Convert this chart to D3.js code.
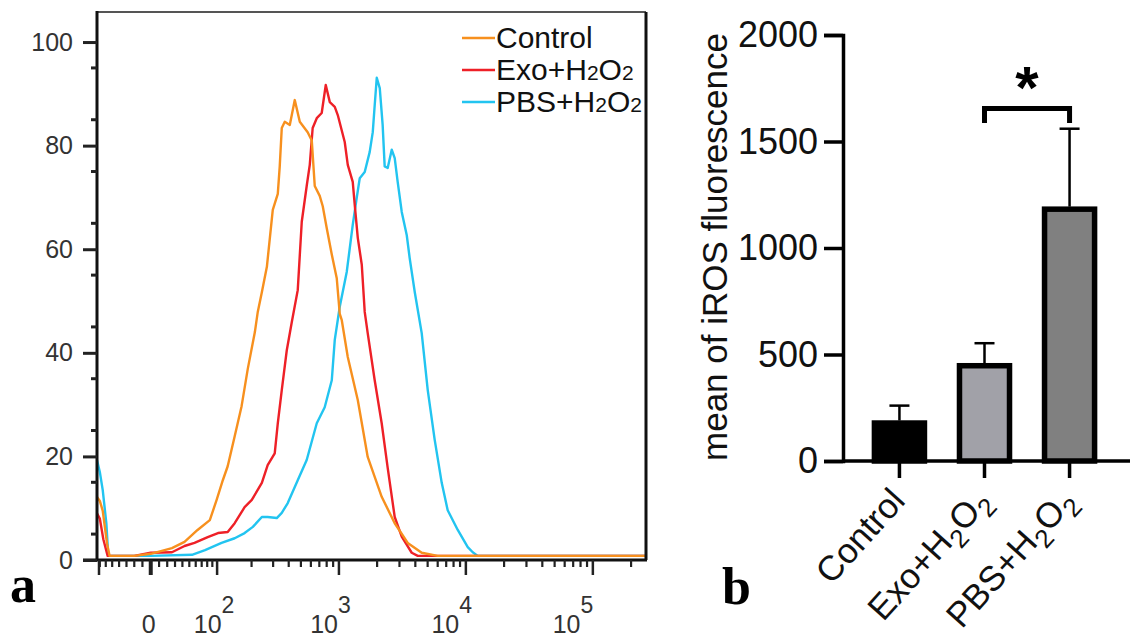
<!DOCTYPE html>
<html>
<head>
<meta charset="utf-8">
<script src="https://cdn.jsdelivr.net/npm/d3@7"></script>
<style>
  body { margin: 0; background: #fff; }
  text { font-family: "Liberation Sans", Arial, sans-serif; }
</style>
</head>
<body>
<div id="chart"></div>
<script>
// ---- panel a: flow histogram, [fluorescence, % of max] ----
const controlHist = [[-75,12.2],[-70,11.4],[-65,9.5],[-58,3.2],[-54,0.8],[-20,0.8],[0,1.2],[26,2.3],[43,3.5],[63,5.8],[85,7.7],[99,11.6],[113,15.4],[125,18.1],[144,23.9],[165,29.7],[186,36.9],[213,44.0],[225,47.9],[243,51.7],[267,56.6],[298,67.6],[327,70.7],[339,76],[352,83.4],[372,84.6],[408,84],[447,88.8],[490,84.6],[566,82.6],[610,81],[644,72.2],[705,70.3],[745,68.3],[802,64],[878,59],[961,54.4],[1015,47.5],[1053,46.3],[1174,39.2],[1408,30.9],[1686,19.9],[2173,12.2],[2752,7.1],[3484,3.3],[4490,1.4],[6000,0.8],[262144,0.8]];
const exoHist = [[-75,9],[-70,8],[-64,4],[-57,0.8],[-20,0.8],[0,1.4],[26,1.5],[43,2.7],[58,3.3],[81,4.4],[102,5.2],[125,5.4],[144,7.1],[175,10.2],[201,11.6],[243,14.9],[271,18.3],[309,20.6],[327,26.4],[352,32.8],[386,40.5],[423,45.9],[472,52.1],[508,65.3],[556,72.2],[588,76.3],[620,83.4],[668,85.3],[731,86.3],[787,91.7],[847,88.4],[927,87.5],[979,85.9],[1111,80.7],[1174,76.3],[1285,73],[1333,68.5],[1408,62.2],[1514,57],[1597,47.9],[1686,43.8],[1914,34.7],[2173,26.4],[2423,17.8],[2752,8.3],[3126,4.5],[3746,1.4],[4180,0.8],[262144,0.8]];
const pbsHist = [[-75,19.3],[-70,17],[-65,13.5],[-59,7],[-56,0.8],[-20,0.8],[0,0.8],[54,1.0],[76,1.9],[110,3.3],[144,4.2],[175,5.2],[205,6.4],[243,8.3],[271,8.3],[321,8.1],[352,9.1],[393,11],[472,15.4],[556,19.3],[668,26.4],[772,29.5],[878,34.7],[927,42.5],[1015,48.9],[1152,55.6],[1285,64.7],[1381,69.9],[1459,73.7],[1597,74.9],[1749,78.8],[1848,82.6],[1914,87.8],[1987,93.1],[2098,91.1],[2211,84],[2294,76],[2423,75.7],[2607,79.2],[2752,77.6],[2904,73],[3126,67.2],[3424,62.7],[3610,58.3],[3960,51.7],[4490,43.8],[5009,32.8],[5683,23.2],[6455,14.9],[7194,9.6],[8633,5.8],[10349,2.5],[11326,1.5],[12400,0.8],[262144,0.8]];
const histNames = ["Control", "Exo+H2O2", "PBS+H2O2"];
const histTickMajor = [0, 100, 1000, 10000, 100000];
const histTickExp = ["", "2", "3", "4", "5"];
const histYTicks = [0, 20, 40, 60, 80, 100];

// ---- panel b: bar chart ----
const groups = ["Control", "Exo+H2O2", "PBS+H2O2"];
const means = [190, 459, 1194];
const errs = [70, 94, 366];
const barTicks = [0, 500, 1000, 1500, 2000];
const sigPair = ["Exo+H2O2", "PBS+H2O2"];
const sigLevel = [1587, 1655];

const width = 1138, height = 637;
const svg = d3.select("#chart").append("svg").attr("width", width).attr("height", height);

const lineColors = ["#f7901e", "#ee2027", "#22c4f0"];
const barFills = ["#000000", "#a1a1a8", "#808080"];
const serif = "'Liberation Serif', 'Times New Roman', serif";

// ===== panel a =====
const aLeft = 97, aRight = 646, aTop = 12, aBottom = 560;
const w0 = 66;
const tr = v => Math.asinh(v / w0) / Math.LN10;
const xl = d3.scaleLinear().domain([tr(-75), tr(262144)]).range([aLeft, aRight]);
const x = v => xl(tr(v));
const y = d3.scaleLinear().domain([0, 105.8]).range([aBottom, aTop]);

const ga = svg.append("g");

// curves, back to front
const line = d3.line().x(d => x(d[0])).y(d => y(d[1]));
const series = [pbsHist, exoHist, controlHist];
const seriesColor = [lineColors[2], lineColors[1], lineColors[0]];
ga.append("g").selectAll("path").data(series).join("path")
  .attr("d", line).attr("fill", "none")
  .attr("stroke", (d, i) => seriesColor[i]).attr("stroke-width", 2.4)
  .attr("stroke-linejoin", "round");

// frame
ga.append("line").attr("x1", aLeft).attr("x2", aRight).attr("y1", aTop).attr("y2", aTop)
  .attr("stroke", "#555").attr("stroke-width", 2);
ga.append("line").attr("x1", aRight).attr("x2", aRight).attr("y1", aTop).attr("y2", aBottom)
  .attr("stroke", "#111").attr("stroke-width", 3);
ga.append("line").attr("x1", aLeft).attr("x2", aLeft).attr("y1", aTop - 1).attr("y2", aBottom + 1)
  .attr("stroke", "#111").attr("stroke-width", 3);
ga.append("line").attr("x1", aLeft - 14).attr("x2", aRight + 1).attr("y1", aBottom).attr("y2", aBottom)
  .attr("stroke", "#111").attr("stroke-width", 3);

// y axis
const yAxis = ga.append("g").attr("transform", `translate(${aLeft},0)`)
  .call(d3.axisLeft(y).tickValues(histYTicks).tickSize(14).tickPadding(10));
yAxis.select(".domain").remove();
yAxis.selectAll(".tick line").attr("stroke", "#222").attr("stroke-width", 3);
yAxis.selectAll(".tick text").attr("font-size", 25).attr("fill", "#333");
ga.append("g").selectAll("line").data(d3.range(5, 105, 10)).join("line")
  .attr("x1", aLeft - 6).attr("x2", aLeft).attr("y1", d => y(d)).attr("y2", d => y(d))
  .attr("stroke", "#222").attr("stroke-width", 3);

// x axis ticks (logicle-like)
const minorTicks = [];
d3.range(-70, 0, 10).forEach(v => minorTicks.push(v));
d3.range(10, 100, 10).forEach(v => minorTicks.push(v));
[100, 1000, 10000, 100000].forEach(dec => d3.range(2, 10).forEach(m => { if (dec * m <= 262144) minorTicks.push(dec * m); }));
ga.append("g").selectAll("line").data(minorTicks).join("line")
  .attr("x1", d => x(d)).attr("x2", d => x(d)).attr("y1", aBottom).attr("y2", aBottom + 7)
  .attr("stroke", "#222").attr("stroke-width", 2.2);
ga.append("g").selectAll("line").data(histTickMajor.concat([-75])).join("line")
  .attr("x1", d => x(d) + (d < 0 ? 2 : 0)).attr("x2", d => x(d) + (d < 0 ? 2 : 0))
  .attr("y1", aBottom).attr("y2", aBottom + 15)
  .attr("stroke", "#222").attr("stroke-width", d => d === 0 ? 4 : 2.5);

const x0 = x(0);
const labelX = px => px - (px - x0) * 0.045;
const xl2 = ga.append("g").selectAll("text").data(histTickMajor).join("text")
  .attr("x", (d, i) => i === 0 ? labelX(x(d)) - 2 : labelX(x(d)))
  .attr("y", 633).attr("text-anchor", "middle").attr("font-size", 25).attr("fill", "#333");
xl2.append("tspan").text((d, i) => i === 0 ? "0" : "10");
xl2.filter((d, i) => i > 0).append("tspan").attr("dy", -20).attr("font-size", 23)
  .text((d, i) => histTickExp[i + 1]);

// legend
const leg = ga.append("g").selectAll("g").data(histNames).join("g")
  .attr("transform", (d, i) => `translate(462,${38 + i * 32})`);
leg.append("line").attr("x1", 0).attr("x2", 33).attr("stroke", (d, i) => lineColors[i]).attr("stroke-width", 2.5);
const legText = leg.append("text").attr("x", 34).attr("y", 10).attr("font-size", 30).attr("fill", "#111");
legText.each(function (d) {
  const t = d3.select(this);
  d.split(/(2)/).filter(s => s).forEach(part => {
    if (part === "2") t.append("tspan").attr("font-size", 21).text("2");
    else t.append("tspan").text(part);
  });
});

ga.append("text").attr("x", 10).attr("y", 602).style("font-family", serif)
  .attr("font-weight", "bold").attr("font-size", 52).attr("fill", "#000").text("a");

// ===== panel b =====
const gb = svg.append("g");
const bx = d3.scaleBand().domain(groups).range([843, 1126]).paddingInner(0.353).paddingOuter(0.34);
const by = d3.scaleLinear().domain([0, 2000]).range([461, 35]);

const byAxis = gb.append("g").attr("transform", "translate(843,0)")
  .call(d3.axisLeft(by).tickValues(barTicks).tickFormat(d3.format("d")).tickSize(19).tickPadding(6));
byAxis.select(".domain").attr("stroke", "#000").attr("stroke-width", 3.5);
byAxis.selectAll(".tick line").attr("stroke", "#000").attr("stroke-width", 3.5);
byAxis.selectAll(".tick text").attr("font-size", 36).attr("fill", "#111");

gb.append("line").attr("x1", 843).attr("x2", 1130).attr("y1", by(0)).attr("y2", by(0))
  .attr("stroke", "#000").attr("stroke-width", 3.5);
const cx = d => bx(d) + bx.bandwidth() / 2;
gb.append("g").selectAll("line").data(groups).join("line")
  .attr("x1", cx).attr("x2", cx)
  .attr("y1", by(0)).attr("y2", by(0) + 17).attr("stroke", "#000").attr("stroke-width", 3.5);

// error bars (upper only)
gb.append("g").selectAll("line").data(groups).join("line")
  .attr("x1", cx).attr("x2", cx)
  .attr("y1", (d, i) => by(means[i])).attr("y2", (d, i) => by(means[i] + errs[i]))
  .attr("stroke", "#000").attr("stroke-width", 2.5);
gb.append("g").selectAll("line").data(groups).join("line")
  .attr("x1", d => cx(d) - 10).attr("x2", d => cx(d) + 10)
  .attr("y1", (d, i) => by(means[i] + errs[i])).attr("y2", (d, i) => by(means[i] + errs[i]))
  .attr("stroke", "#000").attr("stroke-width", 2.5);

// bars
gb.append("g").selectAll("rect").data(groups).join("rect")
  .attr("x", d => bx(d) + 2.5).attr("width", bx.bandwidth() - 5)
  .attr("y", (d, i) => by(means[i]) + 2.5).attr("height", (d, i) => by(0) - by(means[i]) - 2.5)
  .attr("fill", (d, i) => barFills[i]).attr("stroke", "#000").attr("stroke-width", 5.5);

// significance bracket
const sx1 = cx(sigPair[0]), sx2 = cx(sigPair[1]);
gb.append("path")
  .attr("d", `M${sx1},${by(sigLevel[0])}V${by(sigLevel[1])}H${sx2}V${by(sigLevel[0])}`)
  .attr("fill", "none").attr("stroke", "#000").attr("stroke-width", 5);
gb.append("text").attr("x", (sx1 + sx2) / 2).attr("y", 108).attr("text-anchor", "middle")
  .attr("font-size", 60).attr("font-weight", "bold").attr("fill", "#000").text("*");

// axis title
gb.append("text").attr("transform", "translate(727,247) rotate(-90)").attr("text-anchor", "middle")
  .attr("font-size", 35).attr("fill", "#111").text("mean of iROS fluorescence");

// rotated group labels
const gl = gb.append("g").selectAll("text").data(groups).join("text")
  .attr("transform", d => `translate(${cx(d) + 14},508) rotate(-48)`)
  .attr("text-anchor", "end").attr("font-size", 35).attr("fill", "#111");
gl.each(function (d) {
  const t = d3.select(this);
  d.split(/(2)/).filter(s => s).forEach(part => {
    if (part === "2") t.append("tspan").attr("font-size", 26).attr("dy", 9).text("2");
    else t.append("tspan").attr("dy", t.selectAll("tspan").size() ? -9 : 0).text(part);
  });
});

gb.append("text").attr("x", 722).attr("y", 604).style("font-family", serif)
  .attr("font-weight", "bold").attr("font-size", 52).attr("fill", "#000").text("b");
</script>
</body>
</html>
